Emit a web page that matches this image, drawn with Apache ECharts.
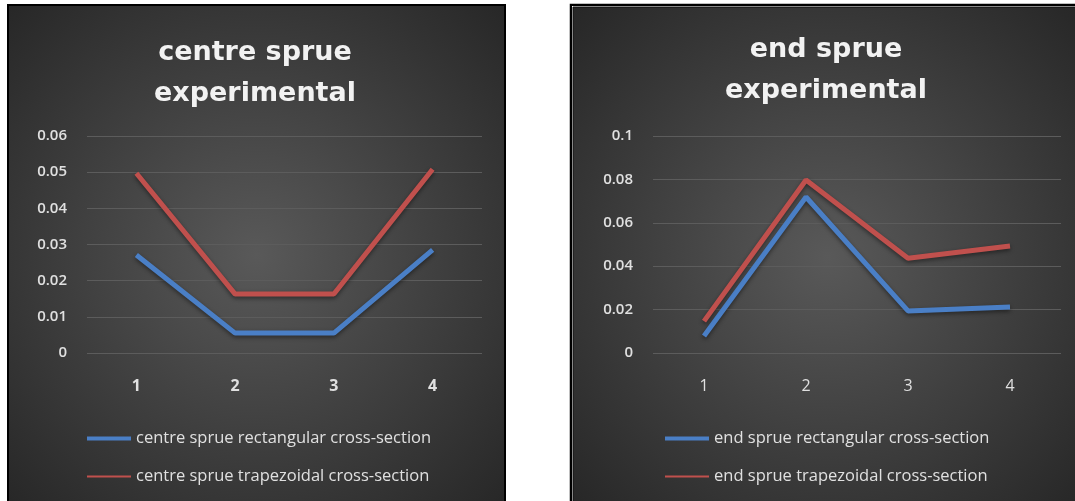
<!DOCTYPE html>
<html>
<head>
<meta charset="utf-8">
<script src="https://cdn.jsdelivr.net/npm/echarts@6/dist/echarts.min.js"></script>
<style>
html,body{margin:0;padding:0;background:#fff;}
#c{width:1075px;height:501px;}
</style>
</head>
<body>
<div id="c"></div>
<script>
const categories = ['1', '2', '3', '4'];
const centreRect = [0.0271, 0.0055, 0.0055, 0.0285];
const centreTrap = [0.0497, 0.0163, 0.0163, 0.0508];
const endRect = [0.0078, 0.0719, 0.0194, 0.0212];
const endTrap = [0.0147, 0.0797, 0.0437, 0.0493];
const centreTitle = 'centre sprue\nexperimental';
const endTitle = 'end sprue\nexperimental';
const names = {
  cr: 'centre sprue rectangular cross-section',
  ct: 'centre sprue trapezoidal cross-section',
  er: 'end sprue rectangular cross-section',
  et: 'end sprue trapezoidal cross-section'
};

const BLUE = '#4a7fc6';
const RED = '#c0504d';
const LABEL = '#e0e0e0';
const FONT = '"Open Sans", sans-serif';

const bgGrad = {
  type: 'radial', x: 0.5, y: 0.5, r: 0.72,
  colorStops: [{offset: 0, color: '#595959'}, {offset: 1, color: '#262626'}]
};

const chart = echarts.init(document.getElementById('c'), null, {renderer: 'canvas'});

function xAxis(gi, weight) {
  return {
    type: 'category', gridIndex: gi, data: categories, boundaryGap: true,
    axisLine: {show: false}, axisTick: {show: false},
    axisLabel: {color: LABEL, fontSize: 16, fontWeight: weight, fontFamily: FONT, margin: 25}
  };
}
function yAxis(gi, max, interval) {
  return {
    type: 'value', gridIndex: gi, min: 0, max: max, interval: interval,
    axisLine: {show: false}, axisTick: {show: false},
    splitLine: {lineStyle: {color: '#5c5c5c', width: 1}},
    axisLabel: {color: LABEL, fontSize: 15, fontWeight: 600, fontFamily: FONT, margin: 20}
  };
}
function lineSeries(name, data, color, gi) {
  return {
    name: name, type: 'line', data: data, xAxisIndex: gi, yAxisIndex: gi,
    showSymbol: false, symbol: 'none', smooth: false,
    lineStyle: {color: color, width: 5, shadowColor: 'rgba(0,0,0,0.45)', shadowBlur: 4, shadowOffsetY: 2},
    itemStyle: {color: color}
  };
}
function legend(name, left, top, h, color) {
  return {
    data: [name], left: left, top: top, padding: 0,
    icon: 'rect', itemWidth: 44, itemHeight: h,
    itemStyle: {color: color},
    textStyle: {color: LABEL, fontSize: 16.5, fontFamily: FONT},
    selectedMode: false
  };
}

chart.setOption({
  backgroundColor: '#ffffff',
  animation: false,
  graphic: [
    {type: 'rect', z: -10, shape: {x: 8, y: 5, width: 497, height: 500},
     style: {fill: bgGrad, stroke: '#000', lineWidth: 2}},
    {type: 'rect', z: -10, shape: {x: 570.5, y: 4.5, width: 520, height: 500},
     style: {fill: '#000', stroke: '#000', lineWidth: 1.5}},
    {type: 'rect', z: -9, shape: {x: 572, y: 6, width: 520, height: 500},
     style: {fill: '#fff'}},
    {type: 'rect', z: -8, shape: {x: 573, y: 7, width: 510, height: 500},
     style: {fill: bgGrad, stroke: '#111', lineWidth: 1}}
  ],
  title: [
    {text: centreTitle, left: 255, top: 32, textAlign: 'center', padding: 0,
     textStyle: {color: '#f2f2f2', fontSize: 27, fontWeight: 'bold', fontFamily: '"DejaVu Sans", sans-serif', lineHeight: 41}},
    {text: endTitle, left: 826, top: 29, textAlign: 'center', padding: 0,
     textStyle: {color: '#f2f2f2', fontSize: 27, fontWeight: 'bold', fontFamily: '"DejaVu Sans", sans-serif', lineHeight: 41}}
  ],
  legend: [
    legend(names.cr, 87, 430, 4, BLUE),
    legend(names.ct, 87, 468, 2, RED),
    legend(names.er, 665, 430, 4, BLUE),
    legend(names.et, 665, 468, 2, RED)
  ],
  grid: [
    {left: 87, top: 136, width: 395, height: 217, containLabel: false},
    {left: 653, top: 136, width: 408, height: 217, containLabel: false}
  ],
  xAxis: [xAxis(0, 'bold'), xAxis(1, 'normal')],
  yAxis: [yAxis(0, 0.06, 0.01), yAxis(1, 0.1, 0.02)],
  series: [
    lineSeries(names.cr, centreRect, BLUE, 0),
    lineSeries(names.ct, centreTrap, RED, 0),
    lineSeries(names.er, endRect, BLUE, 1),
    lineSeries(names.et, endTrap, RED, 1)
  ]
});
</script>
</body>
</html>
